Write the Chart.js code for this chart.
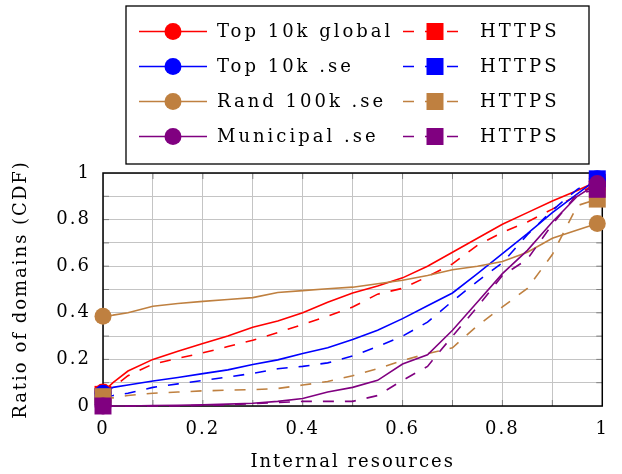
<!DOCTYPE html>
<html lang="en">
<head>
<meta charset="UTF-8">
<title>Internal resources CDF</title>
<script src="https://cdn.jsdelivr.net/npm/chart.js@4"></script>
<style>
  body { margin: 0; background: #fff; }
  canvas { display: block; }
</style>
</head>
<body>
<canvas id="cdfChart" width="622" height="474"></canvas>
<script>
// x positions shared by every curve (fraction of internal resources)
const xs = [0, 0.02, 0.05, 0.1, 0.15, 0.2, 0.25, 0.3, 0.35, 0.4, 0.45, 0.5, 0.55, 0.6, 0.65, 0.7, 0.75, 0.8, 0.85, 0.9, 0.95, 0.99];

const top10kGlobal      = [0.06, 0.10, 0.15, 0.20, 0.235, 0.268, 0.30, 0.338, 0.365, 0.40, 0.445, 0.485, 0.515, 0.55, 0.60, 0.66, 0.72, 0.78, 0.83, 0.88, 0.925, 0.965];
const top10kGlobalHttps = [0.05, 0.08, 0.13, 0.18, 0.205, 0.228, 0.255, 0.282, 0.315, 0.35, 0.385, 0.425, 0.48, 0.505, 0.555, 0.61, 0.69, 0.745, 0.79, 0.845, 0.905, 0.96];
const top10kSe          = [0.055, 0.08, 0.09, 0.107, 0.122, 0.139, 0.155, 0.178, 0.198, 0.225, 0.25, 0.285, 0.325, 0.375, 0.43, 0.485, 0.568, 0.654, 0.74, 0.83, 0.91, 0.975];
const top10kSeHttps     = [0.04, 0.045, 0.055, 0.08, 0.095, 0.11, 0.124, 0.14, 0.16, 0.17, 0.185, 0.215, 0.255, 0.30, 0.36, 0.45, 0.535, 0.615, 0.735, 0.84, 0.93, 0.975];
const rand100kSe        = [0.385, 0.39, 0.40, 0.428, 0.44, 0.449, 0.457, 0.465, 0.487, 0.495, 0.503, 0.51, 0.525, 0.54, 0.56, 0.585, 0.60, 0.62, 0.66, 0.72, 0.755, 0.783];
const rand100kSeHttps   = [0.04, 0.035, 0.045, 0.055, 0.06, 0.065, 0.068, 0.07, 0.075, 0.09, 0.105, 0.13, 0.16, 0.195, 0.225, 0.25, 0.345, 0.425, 0.505, 0.65, 0.86, 0.888];
const municipalSe       = [0, 0, 0, 0.002, 0.003, 0.005, 0.008, 0.012, 0.02, 0.032, 0.06, 0.08, 0.11, 0.18, 0.22, 0.325, 0.446, 0.568, 0.668, 0.79, 0.90, 0.955];
const municipalSeHttps  = [0, 0, 0, 0, 0, 0.003, 0.005, 0.01, 0.015, 0.02, 0.02, 0.02, 0.045, 0.11, 0.17, 0.30, 0.425, 0.56, 0.63, 0.78, 0.91, 0.93];

const seriesNames = ['Top 10k global', 'HTTPS', 'Top 10k .se', 'HTTPS', 'Rand 100k .se', 'HTTPS', 'Municipal .se', 'HTTPS'];
const seriesValues = [top10kGlobal, top10kGlobalHttps, top10kSe, top10kSeHttps, rand100kSe, rand100kSeHttps, municipalSe, municipalSeHttps];
const seriesColors = ['#ff0000', '#ff0000', '#0000ff', '#0000ff', '#bf8040', '#bf8040', '#800080', '#800080'];

const FONT = '"DejaVu Serif", serif';
const DASH = [11, 11];

const datasets = seriesValues.map((vals, i) => {
  const https = i % 2 === 1;
  return {
    label: seriesNames[i],
    data: xs.map((x, k) => ({ x: x, y: vals[k] })),
    borderColor: seriesColors[i],
    backgroundColor: seriesColors[i],
    borderWidth: 1.6,
    borderDash: https ? DASH : [],
    pointStyle: https ? 'rect' : 'circle',
    pointRadius: ctx => (ctx.dataIndex === 0 || ctx.dataIndex === xs.length - 1) ? (https ? 12 : 8.5) : 0,
    pointBorderWidth: 0,
    pointHoverRadius: 0,
    tension: 0,
    clip: false,
    order: seriesValues.length - 1 - i
  };
});

// letter spacing gets reset when the canvas is resized, so set it each time
const spacing = {
  id: 'spacing',
  beforeUpdate(chart) { chart.ctx.letterSpacing = '2px'; },
  beforeDraw(chart) { chart.ctx.letterSpacing = '2px'; }
};

const frame = {
  id: 'frame',
  beforeDatasetsDraw(chart) {
    const { ctx, chartArea: a, scales } = chart;
    ctx.save();
    ctx.strokeStyle = '#7f7f7f';
    ctx.lineWidth = 1;
    for (let v = 1; v < 10; v++) {
      const px = scales.x.getPixelForValue(v / 10);
      const py = scales.y.getPixelForValue(v / 10);
      ctx.beginPath();
      ctx.moveTo(px, a.bottom); ctx.lineTo(px, a.bottom - 6);
      ctx.moveTo(px, a.top); ctx.lineTo(px, a.top + 6);
      ctx.moveTo(a.left, py); ctx.lineTo(a.left + 6, py);
      ctx.moveTo(a.right, py); ctx.lineTo(a.right - 6, py);
      ctx.stroke();
    }
    ctx.strokeStyle = '#000';
    ctx.lineWidth = 1.5;
    ctx.strokeRect(a.left, a.top, a.right - a.left, a.bottom - a.top);
    ctx.restore();
  }
};

const legendBox = {
  id: 'legendBox',
  afterDraw(chart) {
    const ctx = chart.ctx;
    ctx.save();
    ctx.fillStyle = '#fff';
    ctx.fillRect(126, 6, 463, 158);
    ctx.strokeStyle = '#000';
    ctx.lineWidth = 1.3;
    ctx.strokeRect(126, 6, 463, 158);
    ctx.font = '18px ' + FONT;
    ctx.textBaseline = 'middle';
    ctx.letterSpacing = '3px';
    chart.data.datasets.forEach((ds, i) => {
      const row = Math.floor(i / 2);
      const https = i % 2 === 1;
      const y = 31.5 + row * 35;
      const x0 = https ? 403 : 139;
      const x1 = https ? 462 : 207;
      const mx = https ? 435 : 173;
      ctx.strokeStyle = ds.borderColor;
      ctx.fillStyle = ds.borderColor;
      ctx.lineWidth = 1.5;
      ctx.setLineDash(https ? DASH : []);
      ctx.beginPath();
      ctx.moveTo(x0, y); ctx.lineTo(x1, y);
      ctx.stroke();
      ctx.setLineDash([]);
      ctx.beginPath();
      if (https) ctx.rect(mx - 8.5, y - 8.5, 17, 17);
      else ctx.arc(mx, y, 8.5, 0, Math.PI * 2);
      ctx.fill();
      ctx.fillStyle = '#000';
      ctx.fillText(ds.label, https ? 480 : 217, y + 1);
    });
    ctx.restore();
  }
};

const tickLabel = value => {
  const t = Math.round(value * 10);
  return t % 2 === 0 ? String(t / 10) : '';
};

new Chart(document.getElementById('cdfChart'), {
  type: 'line',
  data: { datasets: datasets },
  options: {
    responsive: false,
    animation: false,
    layout: { padding: { top: 173, right: 9, left: 0, bottom: 0 } },
    plugins: { legend: { display: false }, tooltip: { enabled: false } },
    scales: {
      x: {
        type: 'linear',
        min: 0,
        max: 1,
        afterFit: s => { s.height = 68; },
        grid: { color: '#c4c4c4', lineWidth: 1, drawTicks: false },
        border: { display: false },
        ticks: { stepSize: 0.1, autoSkip: false, maxRotation: 0, padding: 13, color: '#000', font: { family: FONT, size: 18 }, callback: tickLabel },
        title: { display: true, text: 'Internal resources', color: '#000', font: { family: FONT, size: 18 }, padding: { top: 0, bottom: 1 } }
      },
      y: {
        type: 'linear',
        min: 0,
        max: 1,
        afterFit: s => { s.width = 103; },
        grid: { color: '#c4c4c4', lineWidth: 1, drawTicks: false },
        border: { display: false },
        ticks: { stepSize: 0.1, autoSkip: false, padding: 12, color: '#000', font: { family: FONT, size: 18 }, callback: tickLabel },
        title: { display: true, text: 'Ratio of domains (CDF)', color: '#000', font: { family: FONT, size: 18 }, padding: { top: 11, bottom: 0 } }
      }
    }
  },
  plugins: [spacing, frame, legendBox]
});
</script>
</body>
</html>
